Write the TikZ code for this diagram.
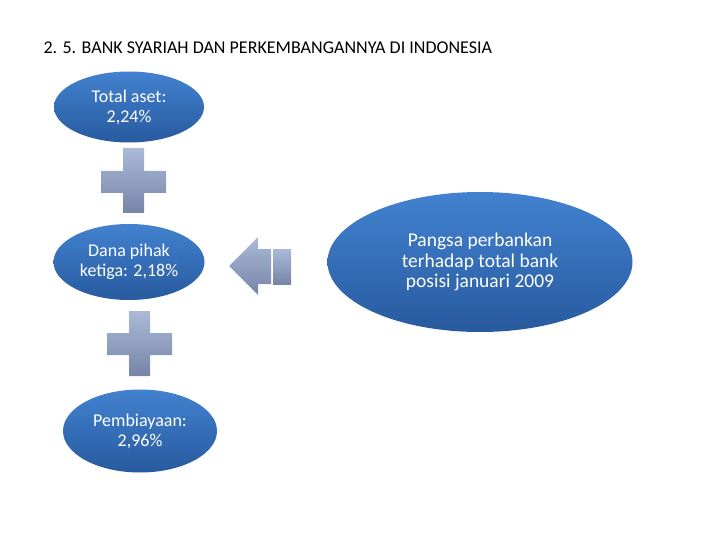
\documentclass[tikz,border=0pt]{standalone}
\usepackage{fontspec}
\setmainfont{Carlito}
\usetikzlibrary{shapes.geometric}

\definecolor{elltop}{RGB}{66,130,208}
\definecolor{ellbot}{RGB}{40,90,158}
\definecolor{plustop}{RGB}{172,186,216}
\definecolor{plusbot}{RGB}{118,132,168}

\begin{document}
\begin{tikzpicture}[x=1pt,y=-1pt]
      \tikzstyle{oval}=[ellipse,inner sep=0pt,text=white,align=center,
        top color=elltop,bottom color=ellbot,
        font=\fontsize{18}{20}\selectfont]
      \tikzstyle{plus}=[top color=plustop,bottom color=plusbot]

      \useasboundingbox (0,0) rectangle (720,540);

      \node[anchor=base west,font=\fontsize{18}{20}\selectfont] (title) at (40,54)
           {2. 5. BANK SYARIAH DAN PERKEMBANGANNYA DI INDONESIA};

      \node[oval,minimum width=150pt,minimum height=71pt] (TA)  at (129,107)
           {Total aset:\\2,24\%};
      \node[oval,minimum width=151pt,minimum height=76pt] (DPK) at (129,262)
           {Dana pihak\\ketiga: 2,18\%};
      \node[oval,minimum width=154pt,minimum height=83pt] (PB)  at (140,431)
           {Pembiayaan:\\2,96\%};
      \node[oval,minimum width=305pt,minimum height=140pt,
           font=\fontsize{19.5}{20.5}\selectfont] (PP) at (480,262)
           {Pangsa perbankan\\terhadap total bank\\posisi januari 2009};

      % plus signs
      \shade[plus] (123,148) -- (144,148) -- (144,171) -- (166,171) -- (166,193)
           -- (144,193) -- (144,213) -- (123,213) -- (123,193) -- (101,193)
           -- (101,171) -- (123,171) -- cycle;
      \shade[plus] (129,311) -- (150,311) -- (150,333) -- (172,333) -- (172,355)
           -- (150,355) -- (150,376) -- (129,376) -- (129,355) -- (107,355)
           -- (107,333) -- (129,333) -- cycle;

      % arrow
      \shade[plus] (229,266) -- (258,237) -- (258,249) -- (271,249) -- (271,284)
           -- (258,284) -- (258,295) -- cycle;
      \shade[plus] (273,249) rectangle (291,284);

\end{tikzpicture}
\end{document}
